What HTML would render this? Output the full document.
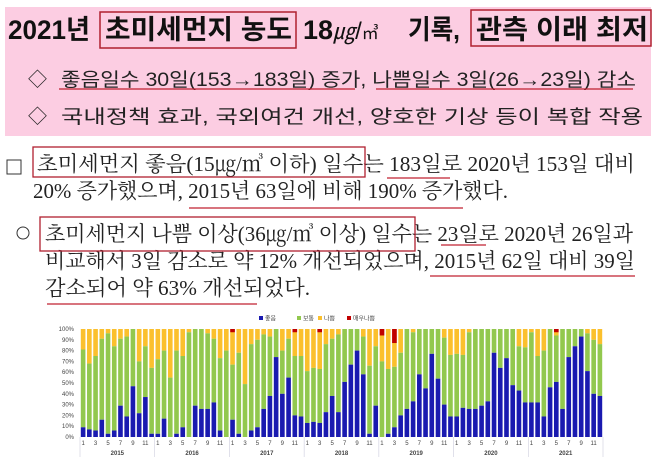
<!DOCTYPE html>
<html><head><meta charset="utf-8"><style>
body{margin:0;background:#fff;width:658px;height:469px;overflow:hidden}
svg{display:block}
.t{font-family:"Liberation Sans","Noto Sans CJK KR",sans-serif}
.s{font-family:"Liberation Serif","Noto Serif CJK SC",serif}
</style></head><body>
<svg width="658" height="469" viewBox="0 0 658 469" xmlns="http://www.w3.org/2000/svg">
<rect x="5" y="7" width="646" height="129" fill="#fccde2"/>
<g class="t" font-weight="bold" font-size="27" fill="#111">
<text x="8" y="39" textLength="82" lengthAdjust="spacingAndGlyphs">2021년</text>
<text x="105" y="39" textLength="187" lengthAdjust="spacingAndGlyphs">초미세먼지 농도</text>
<text x="303" y="39"><tspan>18</tspan><tspan font-weight="normal" font-style="italic" font-size="22">㎍</tspan><tspan font-weight="normal" font-size="24">/</tspan><tspan font-weight="normal" font-size="17">㎥</tspan></text>
<text x="408" y="39" textLength="52" lengthAdjust="spacingAndGlyphs">기록,</text>
<text x="476" y="39" textLength="172" lengthAdjust="spacingAndGlyphs">관측 이래 최저</text>
</g>
<rect x="100" y="12" width="196" height="36" fill="none" stroke="#b02030" stroke-width="1.5"/>
<rect x="471" y="10" width="180" height="36" fill="none" stroke="#b02030" stroke-width="1.5"/>
<g class="t" font-size="19" fill="#222">
<text x="28" y="86">◇</text>
<text x="61" y="86" textLength="575" lengthAdjust="spacingAndGlyphs">좋음일수 30일(153→183일) 증가, 나쁨일수 3일(26→23일) 감소</text>
<text x="28" y="123">◇</text>
<text x="61" y="123" textLength="582" lengthAdjust="spacingAndGlyphs">국내정책 효과, 국외여건 개선, 양호한 기상 등이 복합 작용</text>
</g>
<line x1="59" y1="89" x2="355" y2="89" stroke="#c02030" stroke-width="1.3"/>
<line x1="376" y1="89" x2="633" y2="89" stroke="#c02030" stroke-width="1.3"/>
<g class="s" font-size="21" fill="#222">
<rect x="7" y="160" width="14" height="14" fill="none" stroke="#333" stroke-width="1"/>
<text x="37" y="171" textLength="598" lengthAdjust="spacingAndGlyphs">초미세먼지 좋음(15㎍/㎥ 이하) 일수는 183일로 2020년 153일 대비</text>
<text x="33" y="198" textLength="475" lengthAdjust="spacingAndGlyphs">20% 증가했으며, 2015년 63일에 비해 190% 증가했다.</text>
<circle cx="23" cy="233" r="6" fill="none" stroke="#333" stroke-width="1"/>
<text x="45" y="241" textLength="588" lengthAdjust="spacingAndGlyphs">초미세먼지 나쁨 이상(36㎍/㎥ 이상) 일수는 23일로 2020년 26일과</text>
<text x="45" y="268" textLength="590" lengthAdjust="spacingAndGlyphs">비교해서 3일 감소로 약 12% 개선되었으며, 2015년 62일 대비 39일</text>
<text x="45" y="295" textLength="265" lengthAdjust="spacingAndGlyphs">감소되어 약 63% 개선되었다.</text>
</g>
<rect x="33" y="147" width="332" height="30" fill="none" stroke="#b02030" stroke-width="1.3"/>
<rect x="40" y="217" width="375" height="34" fill="none" stroke="#b02030" stroke-width="1.3"/>
<g stroke="#c02030" stroke-width="1.2">
<line x1="387" y1="178" x2="450" y2="178"/>
<line x1="189" y1="208" x2="463" y2="208"/>
<line x1="441" y1="245" x2="486" y2="245"/>
<line x1="430" y1="276" x2="635" y2="276"/>
<line x1="47" y1="304" x2="257" y2="304"/>
</g>
<g id="chart"></g>
</svg>
<script>
var good=[9,7,6,16,3,6,29,19,47,22,37,3, 3,17,0,3,9,0,29,26,26,32,6,0, 16,3,0,6,9,26,38,74,40,55,20,19, 13,14,13,23,38,23,51,67,80,58,3,29, 0,3,9,20,26,33,58,45,77,54,30,19, 19,27,26,26,29,33,78,64,73,48,43,32, 32,32,19,46,51,26,74,84,93,61,40,38];
var top_=[81,68,75,91,96,84,91,93,100,70,84,64, 72,80,55,80,75,97,100,100,96,91,73,80, 67,78,49,86,90,95,93,100,80,91,75,75, 61,64,63,86,91,95,100,100,100,93,66,84, 70,63,65,78,100,97,100,100,100,100,92,76, 77,76,97,100,100,100,100,100,100,100,84,83, 97,75,80,100,94,100,100,100,100,96,90,86];
var red={24:[97,100],34:[97,100],38:[97,100],48:[94,100],50:[87,100],76:[97,100]};
var s='',x0=80,w=(603-80)/84,y0=437,h=108;
function Y(v){return y0-v*h/100}
for(var i=0;i<=10;i++){s+='<text x="74" y="'+(Y(i*10)+2)+'" font-size="6" text-anchor="end" fill="#444" class="t">'+(i*10)+'%</text>';}
for(var i=0;i<84;i++){var x=x0+i*w+0.8,bw=w-1.6;var t=top_[i];var r=red[i];
s+='<rect x="'+x+'" y="'+Y(100)+'" width="'+bw+'" height="'+(Y(t)-Y(100))+'" fill="#fbc02d"/>';
s+='<rect x="'+x+'" y="'+Y(t)+'" width="'+bw+'" height="'+(Y(good[i])-Y(t))+'" fill="#92c84e"/>';
s+='<rect x="'+x+'" y="'+Y(good[i])+'" width="'+bw+'" height="'+(y0-Y(good[i]))+'" fill="#1a1ab0"/>';
if(r)s+='<rect x="'+x+'" y="'+Y(100)+'" width="'+bw+'" height="'+(Y(r[0])-Y(100))+'" fill="#c00000"/>';
var m=i%12+1;if(m%2==1)s+='<text x="'+(x+bw/2)+'" y="445" font-size="6" text-anchor="middle" fill="#444" class="t">'+m+'</text>';}
for(var y=0;y<=7;y++){var xx=x0+y*12*w;s+='<line x1="'+xx+'" y1="437" x2="'+xx+'" y2="457" stroke="#ccd" stroke-width="0.6"/>';
if(y<7)s+='<text x="'+(xx+6*w)+'" y="455" font-size="6" text-anchor="middle" fill="#444" class="t" font-weight="bold">'+(2015+y)+'</text>';}
var lg=[['#1a1ab0','좋음',259],['#92c84e','보통',297],['#fbc02d','나쁨',318],['#c00000','매우나쁨',347]];
lg.forEach(function(l){s+='<rect x="'+l[2]+'" y="316" width="4" height="4" fill="'+l[0]+'"/><text x="'+(l[2]+6)+'" y="320.5" font-size="6" fill="#444" class="t">'+l[1]+'</text>';});
document.getElementById('chart').innerHTML=s;
</script>
</body></html>
